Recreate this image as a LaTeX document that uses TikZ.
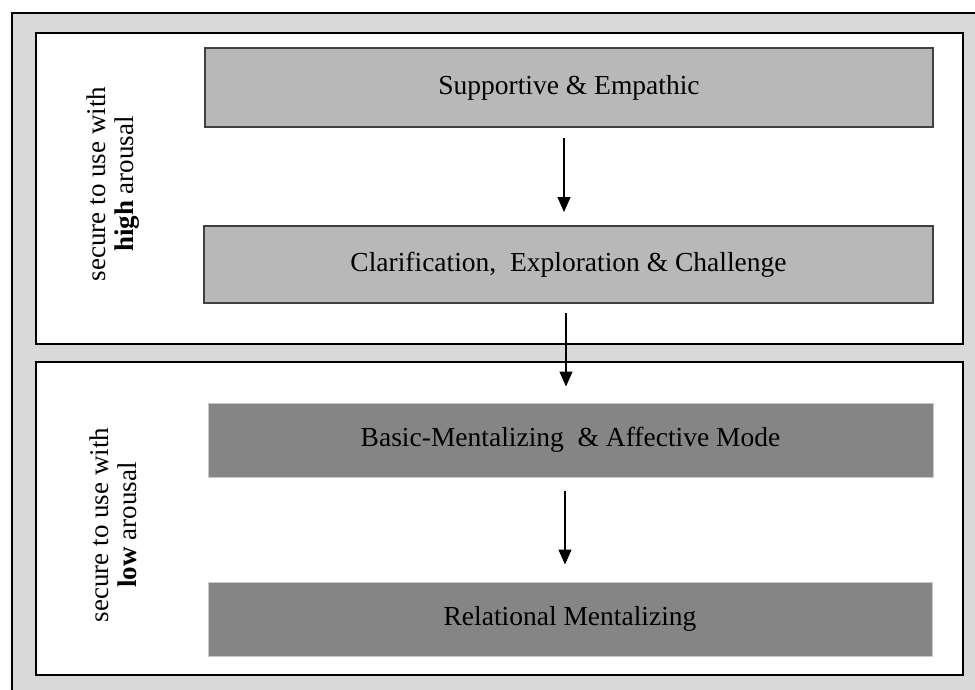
\documentclass[tikz,border=0pt]{standalone}
\usepackage{fontspec}
\setmainfont{Liberation Serif}
\usetikzlibrary{arrows.meta}
\definecolor{bggray}{HTML}{D9D9D9}
\definecolor{lightbox}{HTML}{B8B8B8}
\definecolor{darkbox}{HTML}{858585}
\definecolor{boxedge}{HTML}{404040}
\definecolor{paleedge}{HTML}{C8C8C8}
\tikzset{
  panel/.style={draw=black, line width=2.4pt, fill=white},
  lightstep/.style={draw=boxedge, line width=2pt, fill=lightbox, inner sep=0pt,
    font=\fontsize{27.5}{30}\selectfont},
  darkstep/.style={draw=paleedge, line width=1pt, fill=darkbox, inner sep=0pt,
    font=\fontsize{27.5}{30}\selectfont},
  sidelabel/.style={rotate=90, align=center, font=\fontsize{27}{28}\selectfont},
  flow/.style={line width=1.3pt, -{Triangle[width=13pt,length=15pt]}}
}
\begin{document}
\begin{tikzpicture}[x=1pt,y=-1pt]
\useasboundingbox (0,0) rectangle (975,689);
% outer frame
\fill[white] (0,0) rectangle (975,689);
\draw[fill=bggray, line width=2pt] (12,13) rectangle (990,700);
% panels
\draw[panel] (36,33) rectangle (963,344);
\draw[panel] (36,362) rectangle (963,675);
% boxes
\node[lightstep, minimum width=728pt, minimum height=79pt] (b1) at (569,87.5) {Supportive \& Empathic};
\node[lightstep, minimum width=729pt, minimum height=77pt] (b2) at (568.5,264.5) {Clarification,\ \ Exploration \& Challenge};
\node[darkstep, minimum width=725pt, minimum height=74pt] (b3) at (570.5,440) {Basic-Mentalizing\ \ \& Affective Mode};
\node[darkstep, minimum width=724pt, minimum height=74pt] (b4) at (570,619) {Relational Mentalizing};
% side labels
\node[sidelabel] (l1) at (113,184) {secure to use with\\\textbf{high} arousal};
\node[sidelabel] (l2) at (113,525) {secure to use with\\\textbf{low} arousal};
% arrows
\draw[flow, shorten <=10pt, shorten >=13pt] ([xshift=-5pt]b1.south) -- ([xshift=-4.5pt]b2.north);
\draw[flow, shorten <=9pt, shorten >=16pt] ([xshift=-2.5pt]b2.south) -- ([xshift=-4.5pt]b3.north);
\draw[flow, shorten <=13pt, shorten >=17pt] ([xshift=-5.5pt]b3.south) -- ([xshift=-5pt]b4.north);
\end{tikzpicture}
\end{document}
